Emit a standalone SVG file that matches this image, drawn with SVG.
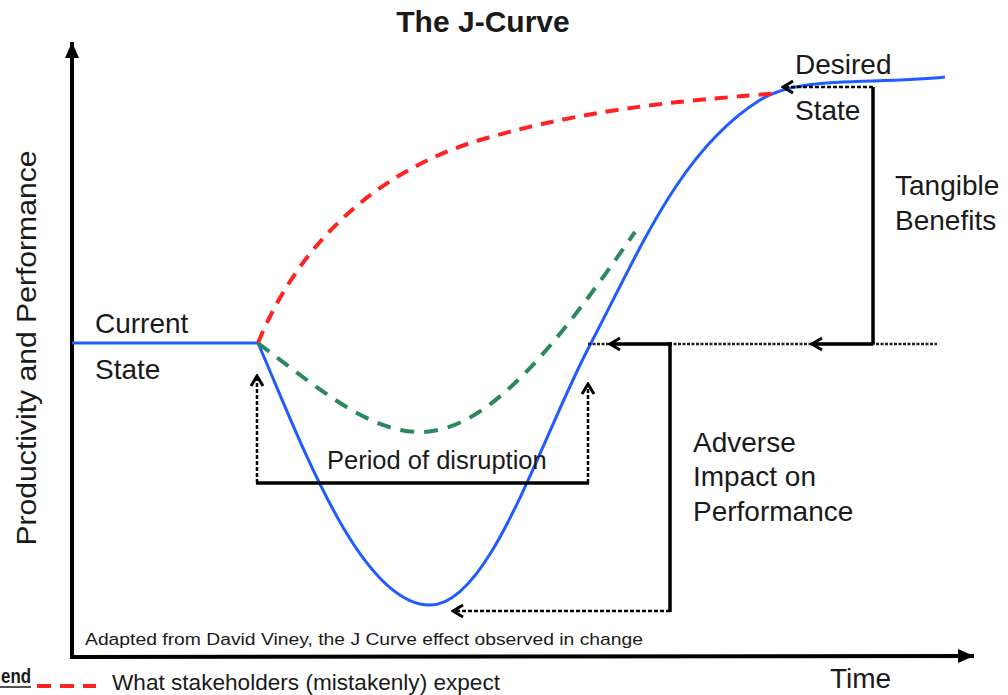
<svg xmlns="http://www.w3.org/2000/svg" width="1008" height="695" viewBox="0 0 1008 695">
<style>
text{font-family:"Liberation Sans",Arial,sans-serif;fill:#1a1a1a}
.lbl{font-size:28px}
.blue{fill:none;stroke:#1f5cff;stroke-width:3}
.red{fill:none;stroke:#ff2222;stroke-width:4;stroke-dasharray:13 9}
.green{fill:none;stroke:#2a8a5c;stroke-width:4;stroke-dasharray:14 10}
.solid{fill:none;stroke:#000;stroke-width:3.5}
.dash{fill:none;stroke:#000;stroke-width:2.5;stroke-dasharray:4 2}
.dot{fill:none;stroke:#222;stroke-width:2.5;stroke-dasharray:3 1.5}
.axis{fill:none;stroke:#000;stroke-width:4}
</style>
<defs>
<marker id="chev" markerUnits="userSpaceOnUse" markerWidth="16" markerHeight="16" viewBox="0 0 16 16" refX="14" refY="8" orient="auto">
<path d="M4,2 L14,8 L4,14" fill="none" stroke="#000" stroke-width="3" stroke-dasharray="none"/>
</marker>
<marker id="tri" markerUnits="userSpaceOnUse" markerWidth="18" markerHeight="16" viewBox="0 0 18 16" refX="16" refY="8" orient="auto">
<path d="M0,1 L16,8 L0,15 z" fill="#000"/>
</marker>
</defs>
<text x="483" y="32" text-anchor="middle" font-size="30" font-weight="bold">The J-Curve</text>
<g id="axes">
<path class="axis" d="M72,657 L72,42" marker-end="url(#tri)"/>
<path class="axis" d="M70,657 L974,656" marker-end="url(#tri)"/>
</g>
<text id="ylabel" class="lbl" transform="translate(36,348) rotate(-90)" text-anchor="middle" textLength="395" lengthAdjust="spacingAndGlyphs">Productivity and Performance</text>
<g id="curves">
<path class="blue" d="M72,343 L258,343 C300,440 360,605 430,605 C490,605 540,440 590,345 C640,250 680,150 760,100 C800,75 870,85 945,77"/>
<path class="red" d="M258,343 C300,240 380,170 480,140 C600,105 700,100 780,93"/>
<path class="green" d="M258,343 C320,390 370,432 420,432 C490,432 560,340 635,232"/>
</g>
<g id="connectors">
<path class="dot" d="M588,344 L937,344"/>
<path class="solid" d="M670,344 L610,344" marker-end="url(#chev)"/>
<path class="solid" d="M873,344 L812,344" marker-end="url(#chev)"/>
<path class="solid" d="M873,344 L873,87"/>
<path class="dash" d="M873,87 L783,87" marker-end="url(#chev)"/>
<path class="solid" d="M670,342 L670,612"/>
<path class="dash" d="M670,611 L453,611" marker-end="url(#chev)"/>
<path class="solid" d="M256,483 L589,483"/>
<path class="dash" d="M257,483 L257,376" marker-end="url(#chev)"/>
<path class="dash" d="M588,483 L588,384" marker-end="url(#chev)"/>
</g>
<g id="current-state"><text class="lbl" x="95" y="333">Current</text><text class="lbl" x="95" y="379">State</text></g>
<g id="desired-state"><text class="lbl" x="795" y="74">Desired</text><text class="lbl" x="795" y="120">State</text></g>
<g id="tangible-benefits"><text class="lbl" x="895" y="195">Tangible</text><text class="lbl" x="895" y="230">Benefits</text></g>
<g id="adverse-impact"><text class="lbl" x="693" y="452">Adverse</text><text class="lbl" x="693" y="486">Impact on</text><text class="lbl" x="693" y="521">Performance</text></g>
<g id="disruption"><text x="327" y="469" font-size="25.5">Period of disruption</text></g>
<text x="85" y="645" font-size="16" textLength="558" lengthAdjust="spacingAndGlyphs">Adapted from David Viney, the J Curve effect observed in change</text>
<text class="lbl" x="830" y="688">Time</text>
<g id="legend">
<text x="1" y="683" font-size="20" font-weight="bold" textLength="30" lengthAdjust="spacingAndGlyphs">end</text>
<line x1="0" y1="687" x2="31" y2="687" stroke="#1a1a1a" stroke-width="1.5"/>
<path class="red" d="M37,686 L96,686" style="stroke-dasharray:14 9"/>
<text x="112" y="690" font-size="21.5" textLength="388" lengthAdjust="spacingAndGlyphs">What stakeholders (mistakenly) expect</text>
</g>
</svg>
